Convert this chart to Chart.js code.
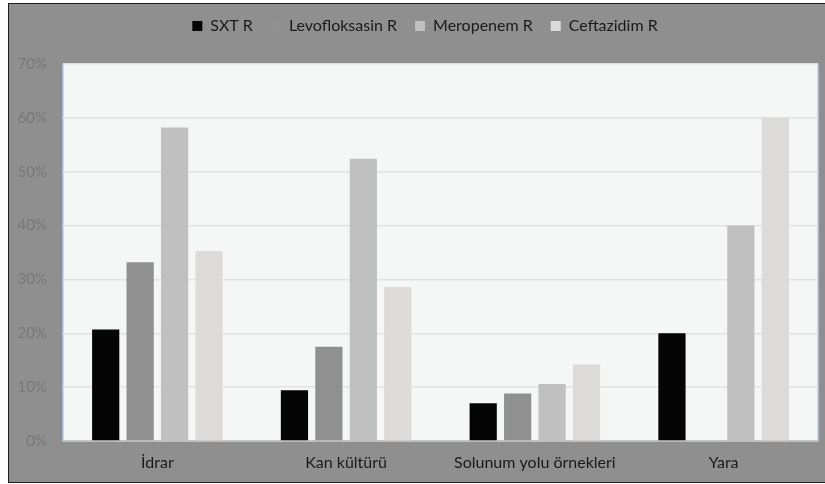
<!DOCTYPE html>
<html>
<head>
<meta charset="utf-8">
<script src="https://cdn.jsdelivr.net/npm/chart.js@4"></script>
<style>
  html, body { margin: 0; padding: 0; background: #fff; }
  .frame {
    position: absolute; left: 8px; top: 3px; width: 817px; height: 478px;
    background: #8f8f8f;
    border-left: 1.5px solid #1e1e1e; border-top: 1.5px solid #1e1e1e; border-bottom: 1.5px solid #1e1e1e;
  }
  #chart-wrap { position: absolute; left: 0; top: 0; width: 825px; height: 484px; }
</style>
</head>
<body>
<div class="frame"></div>
<div id="chart-wrap"><canvas id="chart-resistance"></canvas></div>
<script>
// Örnek türlerine göre direnç oranları (%)
const categories = ['İdrar', 'Kan kültürü', 'Solunum yolu örnekleri', 'Yara'];
const sxtR = [20.7, 9.4, 7.0, 20.0];
const levofloksasinR = [33.2, 17.5, 8.8, 0];
const meropenemR = [58.2, 52.4, 10.6, 40.0];
const ceftazidimR = [35.3, 28.6, 14.2, 60.0];
const yTicks = [0, 10, 20, 30, 40, 50, 60, 70];

const seriesColors = ['#050505', '#909090', '#c0c0c0', '#dcdbda'];

// Çizim alanı arka planı ve kenar çizgileri
const plotBackground = {
    id: 'plotBackground',
    beforeInit(chart) {
        const fit = chart.legend.fit;
        chart.legend.fit = function () {
            fit.call(this);
            this.height = 64;
        };
    },
    afterLayout(chart) {
        // lejantı çerçevenin ortasına kaydır
        chart.legend.left += 32;
    },
    beforeDraw(chart) {
        const { ctx, chartArea: a } = chart;
        ctx.save();
        ctx.fillStyle = '#f5f6f6';
        ctx.fillRect(a.left, a.top, a.right - a.left, a.bottom - a.top);
        ctx.strokeStyle = '#b9cbe6';
        ctx.lineWidth = 1.5;
        ctx.beginPath();
        ctx.moveTo(a.left, a.bottom);
        ctx.lineTo(a.left, a.top);
        ctx.moveTo(a.right, a.top);
        ctx.lineTo(a.right, a.bottom);
        ctx.stroke();
        ctx.restore();
    }
};

const ctx = document.getElementById('chart-resistance');

new Chart(ctx, {
    type: 'bar',
    data: {
        labels: categories,
        datasets: [
            { label: 'SXT R', data: sxtR, backgroundColor: seriesColors[0] },
            { label: 'Levofloksasin R', data: levofloksasinR, backgroundColor: seriesColors[1] },
            { label: 'Meropenem R', data: meropenemR, backgroundColor: seriesColors[2] },
            { label: 'Ceftazidim R', data: ceftazidimR, backgroundColor: seriesColors[3] }
        ]
    },
    options: {
        responsive: true,
        maintainAspectRatio: false,
        animation: false,
        layout: { padding: { top: 0, right: 7, bottom: 0, left: 0 } },
        datasets: {
            bar: { categoryPercentage: 0.73, barPercentage: 0.79 }
        },
        plugins: {
            legend: {
                position: 'top',
                labels: {
                    boxWidth: 10,
                    boxHeight: 10,
                    padding: 18,
                    color: '#1a1a1a',
                    font: { family: 'Lato', size: 16 }
                }
            },
            tooltip: { enabled: false }
        },
        scales: {
            x: {
                grid: { display: false, drawTicks: false },
                border: { color: '#c4c4c4', width: 1.5 },
                ticks: {
                    color: '#1a1a1a',
                    padding: 12,
                    font: { family: 'Lato', size: 16 }
                },
                afterFit(scale) { scale.height = 43; }
            },
            y: {
                min: 0,
                max: 70,
                afterBuildTicks(scale) {
                    scale.ticks = yTicks.map(v => ({ value: v }));
                },
                grid: { color: '#e2e2e2', lineWidth: 1.5, drawTicks: false },
                border: { display: false },
                ticks: {
                    color: '#777777',
                    padding: 16,
                    font: { family: 'Lato', size: 15 },
                    callback: value => value + '%'
                },
                afterFit(scale) { scale.width = 63; }
            }
        }
    },
    plugins: [plotBackground]
});
</script>
</body>
</html>
